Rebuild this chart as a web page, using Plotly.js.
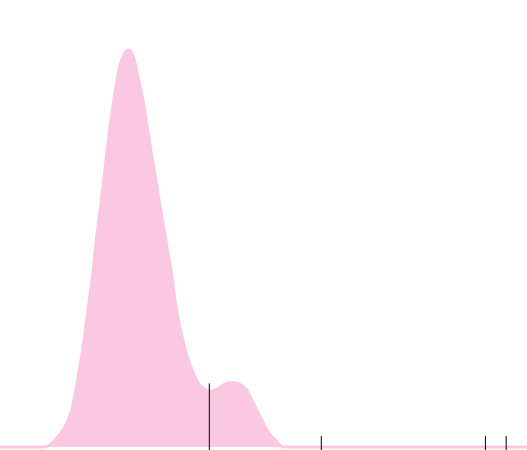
<!DOCTYPE html>
<html>
<head>
<meta charset="utf-8">
<script src="https://cdn.plot.ly/plotly-3.0.1.min.js"></script>
<style>html,body{margin:0;padding:0;background:#fff;}#chart{width:527px;height:450px;}</style>
</head>
<body>
<div id="chart"></div>
<script>
// Density curve (x in data units, y = density scaled to peak 1)
const densityX = [0, 0.2, 0.4, 0.6, 0.75, 0.835, 0.949, 1.044, 1.152, 1.266, 1.361, 1.442, 1.505, 1.569, 1.613, 1.694, 1.770, 1.835, 1.917, 1.979, 2.055, 2.139, 2.245, 2.309, 2.372, 2.435, 2.495, 2.548, 2.605, 2.708, 2.833, 2.941, 3.046, 3.156, 3.245, 3.321, 3.383, 3.467, 3.573, 3.668, 3.763, 3.890, 3.985, 4.099, 4.213, 4.326, 4.427, 4.516, 4.592, 4.681, 4.776, 4.871, 4.966, 5.061, 5.142, 5.218, 5.281, 5.370, 5.45, 5.6, 6, 7, 8, 9, 10];
const densityY = [0, 0, 0, 0, 0, 0, 0.005, 0.018, 0.034, 0.059, 0.093, 0.144, 0.194, 0.244, 0.287, 0.370, 0.446, 0.530, 0.615, 0.685, 0.773, 0.857, 0.941, 0.975, 0.994, 1.0, 0.994, 0.975, 0.941, 0.876, 0.773, 0.685, 0.599, 0.514, 0.446, 0.370, 0.320, 0.270, 0.219, 0.186, 0.161, 0.144, 0.140, 0.144, 0.154, 0.161, 0.162, 0.160, 0.154, 0.144, 0.118, 0.093, 0.068, 0.043, 0.029, 0.018, 0.008, 0, 0, 0, 0, 0, 0, 0, 0];
// Marked observations (vertical markers)
const markX = [3.972, 6.097, 9.211, 9.605];
const markH = [0.160, 0.028, 0.028, 0.028];

const lx = [], ly = [];
markX.forEach((x, i) => { lx.push(x, x, null); ly.push(-0.05, markH[i], null); });

const pink = 'rgb(251,200,225)';
const traces = [
  {x: densityX, y: densityY, type: 'scatter', mode: 'lines', fill: 'tozeroy',
   fillcolor: pink, line: {color: pink, width: 3, shape: 'spline', smoothing: 0.6}, hoverinfo: 'skip'},
  {x: lx, y: ly, type: 'scatter', mode: 'lines', line: {color: '#000', width: 1}, hoverinfo: 'skip'}
];
const layout = {
  width: 527, height: 450,
  margin: {l: 0, r: 0, t: 0, b: 0, pad: 0},
  paper_bgcolor: '#fff', plot_bgcolor: '#fff',
  showlegend: false,
  xaxis: {range: [0, 10], visible: false, fixedrange: true},
  yaxis: {range: [-0.0076, 1.126], visible: false, fixedrange: true}
};
Plotly.newPlot('chart', traces, layout, {staticPlot: true, displayModeBar: false});
</script>
</body>
</html>
